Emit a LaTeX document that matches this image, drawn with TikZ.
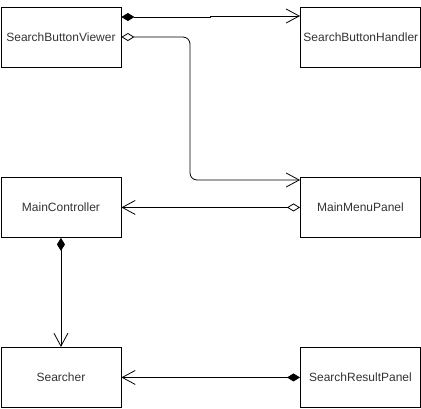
\documentclass[tikz,border=0pt]{standalone}
\usepackage{fontspec}
\setmainfont{Liberation Sans}
\usetikzlibrary{arrows.meta}
\definecolor{txt}{HTML}{333333}
\begin{document}
\begin{tikzpicture}[x=1pt,y=-1pt,
  cls/.style={draw,line width=0.9pt,minimum width=120pt,minimum height=60pt,inner sep=0pt,font=\fontsize{12pt}{14pt}\selectfont,text=txt,anchor=north west},
  conn/.style={line width=0.8pt},
  comp/.tip={Diamond[length=13pt,width=8pt,fill=black]},
  aggr/.tip={Diamond[length=13pt,width=8pt,open,fill=white]},
  opena/.tip={Straight Barb[length=13pt,width=14pt,line width=0.8pt]}]
\useasboundingbox (0,0) rectangle (421,408);
\node[cls] (sbv) at (0.5,7) {SearchButtonViewer};
\node[cls,align=left,text width=120pt] (sbh) at (300,7) {\hspace*{3pt}SearchButtonHandler};
\node[cls] (mc) at (0.5,177) {MainController};
\node[cls] (mmp) at (300,177) {MainMenuPanel};
\node[cls] (s) at (0.5,347) {Searcher};
\node[cls] (srp) at (300,347) {SearchResultPanel};
\coordinate (j1) at (210,17);
\coordinate (j2) at (210,16);
\draw[conn,comp-] (sbv.east |- j1) -- (j1) -- (j2);
\draw[conn,-opena] (j2) -- (sbh.west |- j2);
\coordinate (b1) at (190,37);
\coordinate (b2) at (190,180);
\draw[conn,rounded corners=7pt,aggr-opena] (sbv.east |- b1) -- (b1) -- (b2) -- (mmp.west |- b2);
\draw[conn,aggr-opena] (mmp.west) -- (mc.east);
\draw[conn,comp-opena] (mc.south) -- (s.north);
\draw[conn,comp-opena] (srp.west) -- (s.east);
\end{tikzpicture}
\end{document}
